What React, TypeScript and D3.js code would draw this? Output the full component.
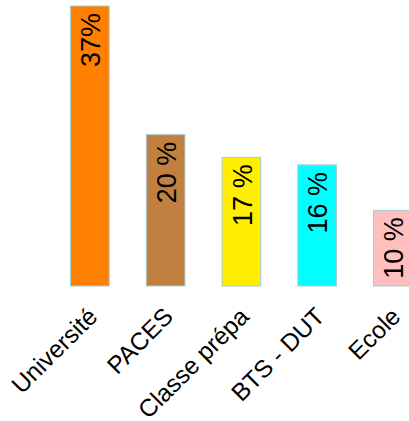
import * as d3 from "d3";

// Répartition des bacheliers par type de formation (%)
const CATEGORIES = ["Université", "PACES", "Classe prépa", "BTS - DUT", "Ecole"];
const VALUES = [37, 20, 17, 16, 10];
const VALUE_LABELS = ["37%", "20 %", "17 %", "16 %", "10 %"];
const COLORS = ["#ff8000", "#c1803f", "#ffee00", "#00ffff", "#ffbfbf"];

const W = 409;
const H = 421;
const FONT = "'Liberation Sans', Arial, Helvetica, sans-serif";

export default function App() {
  const x = d3
    .scaleBand<string>()
    .domain(CATEGORIES)
    .range([52, 52 + 5 * 75.75])
    .paddingInner(0.49)
    .paddingOuter(0.245);

  const y = d3.scaleLinear().domain([0, 37]).range([286, 6]);

  return (
    <svg
      width={W}
      height={H}
      style={{ position: "absolute", left: 0, top: 0, background: "#fff" }}
      fontFamily={FONT}
    >
      {CATEGORIES.map((c, i) => {
        const bx = x(c)!;
        const bw = x.bandwidth();
        const cx = bx + bw / 2;
        const top = y(VALUES[i]);
        return (
          <g key={c}>
            <rect
              x={bx}
              y={top}
              width={bw}
              height={y(0) - top}
              fill={COLORS[i]}
              stroke="#a9cbd0"
              strokeWidth={1}
            />
            <text
              transform={`translate(${cx + 0.5},${top + 7}) rotate(-90)`}
              textAnchor="end"
              dy="0.36em"
              fontSize={27}
              fill="#000"
            >
              {VALUE_LABELS[i]}
            </text>
            <text
              transform={`translate(${cx + 9},318) rotate(-45)`}
              textAnchor="end"
              fontSize={24.5}
              fill="#000"
            >
              {c}
            </text>
          </g>
        );
      })}
    </svg>
  );
}
